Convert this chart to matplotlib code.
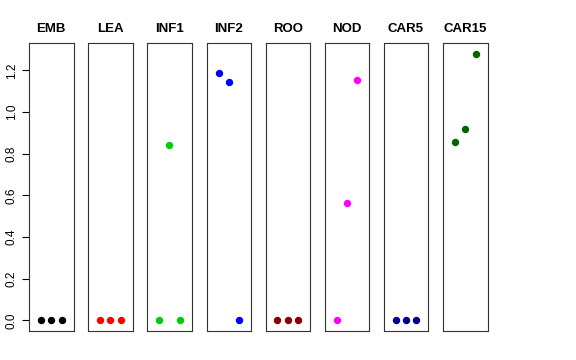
import matplotlib
matplotlib.use('Agg')
import matplotlib.pyplot as plt

plt.rcParams['font.family'] = ['Liberation Sans', 'DejaVu Sans']

# Samples and their three values each
tissues = ['EMB', 'LEA', 'INF1', 'INF2', 'ROO', 'NOD', 'CAR5', 'CAR15']
values = {
    'EMB':   [0.0, 0.0, 0.0],
    'LEA':   [0.0, 0.0, 0.0],
    'INF1':  [0.0, 0.843, 0.0],
    'INF2':  [1.187, 1.146, 0.0],
    'ROO':   [0.0, 0.0, 0.0],
    'NOD':   [0.0, 0.562, 1.154],
    'CAR5':  [0.0, 0.0, 0.0],
    'CAR15': [0.855, 0.918, 1.28],
}
colors = ['black', 'red', '#00CD00', 'blue', '#8B0000', 'magenta', '#00008B', '#006400']
yticks = [0.0, 0.2, 0.4, 0.6, 0.8, 1.0, 1.2]

W, H = 576, 360
fig = plt.figure(figsize=(W / 100, H / 100), dpi=100)

# panel left edges in pixels
lefts = [29, 88, 147, 206.7, 265.5, 324.7, 383.7, 443]
pw = 44.5
top, bottom = 43, 331

ymax = max(max(v) for v in values.values())
for i, (name, col) in enumerate(zip(tissues, colors)):
    ax = fig.add_axes([lefts[i] / W, (H - bottom) / H, pw / W, (bottom - top) / H])
    ax.plot([1, 2, 3], values[name], 'o', color=col, ms=4.3, mec=col)
    ax.set_xlim(-0.16, 4.16)
    ax.set_ylim(-0.04 * ymax, 1.04 * ymax)
    ax.set_xticks([])
    for s in ax.spines.values():
        s.set_linewidth(0.8)
        s.set_color('#333333')
    ax.set_title(name, fontsize=9.5, fontweight='bold', pad=8)
    if i == 0:
        ax.set_yticks(yticks)
        ax.set_yticklabels(['%.1f' % t for t in yticks], rotation=90, va='center', fontsize=8.5)
        ax.tick_params(axis='y', length=5, width=0.8, pad=3)
    else:
        ax.set_yticks([])

fig.savefig('out.png', dpi=100)
